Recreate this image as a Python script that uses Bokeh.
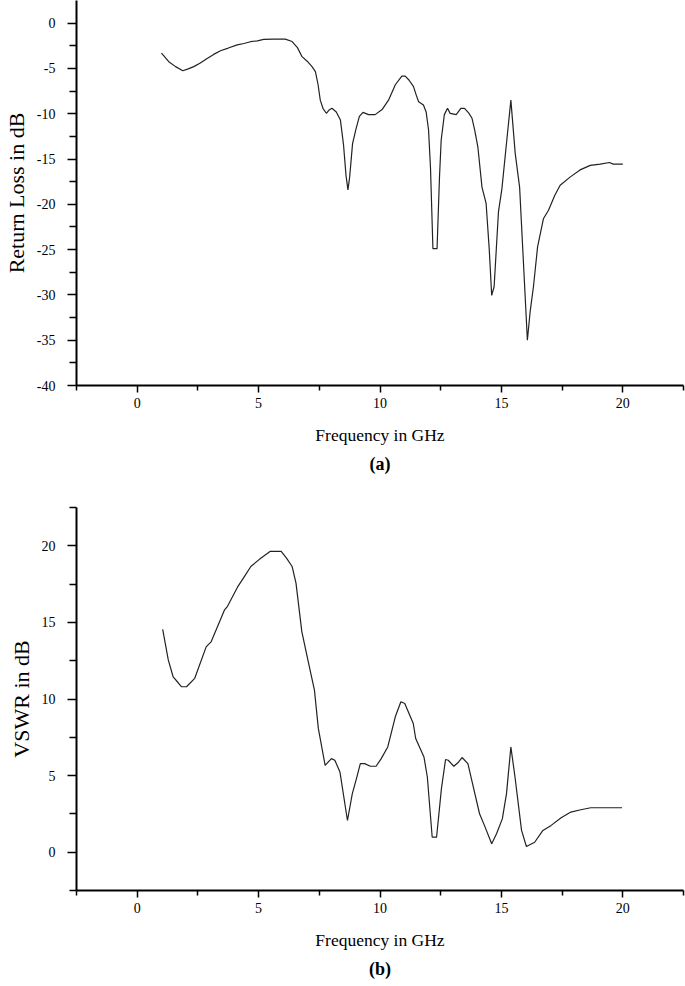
from bokeh.plotting import figure
from bokeh.layouts import column
from bokeh.models import FixedTicker, Title, Range1d, PrintfTickFormatter
from bokeh.embed import file_html
from bokeh.resources import INLINE

# ---- data ----
freq_rl = [1.0, 1.3, 1.58, 1.88, 2.1, 2.33, 2.6, 2.88, 3.15, 3.43, 3.75, 4.12, 4.4, 4.66,
           4.95, 5.21, 5.6, 6.1, 6.38, 6.6, 6.79, 7.0, 7.2, 7.34, 7.45, 7.54, 7.65, 7.79,
           7.9, 8.02, 8.2, 8.37, 8.5, 8.6, 8.68, 8.75, 8.87, 9.0, 9.15, 9.3, 9.53, 9.8,
           10.1, 10.35, 10.5, 10.63, 10.9, 11.04, 11.2, 11.38, 11.5, 11.59, 11.79, 11.9,
           12.0, 12.08, 12.18, 12.35, 12.45, 12.52, 12.65, 12.78, 12.89, 13.14, 13.33,
           13.48, 13.65, 13.79, 13.9, 14.03, 14.2, 14.37, 14.5, 14.6, 14.7, 14.88, 15.02,
           15.2, 15.39, 15.57, 15.75, 15.9, 16.07, 16.19, 16.32, 16.49, 16.73, 16.94,
           17.2, 17.42, 17.84, 18.24, 18.66, 19.07, 19.45, 19.61, 20.0]
return_loss = [-3.3, -4.25, -4.8, -5.25, -5.05, -4.8, -4.4, -3.9, -3.45, -3.05, -2.75, -2.4,
               -2.25, -2.05, -1.95, -1.8, -1.77, -1.77, -2.03, -2.7, -3.7, -4.2, -4.8, -5.35,
               -6.8, -8.5, -9.4, -9.95, -9.6, -9.4, -9.8, -10.7, -13.5, -16.8, -18.4, -17.0,
               -13.3, -11.8, -10.3, -9.85, -10.1, -10.1, -9.5, -8.5, -7.6, -6.8, -5.85,
               -5.85, -6.3, -7.0, -8.0, -8.67, -9.04, -9.8, -11.8, -16.0, -24.9, -24.9,
               -17.0, -12.9, -10.1, -9.4, -9.96, -10.1, -9.4, -9.4, -9.9, -10.5, -11.8,
               -13.65, -18.1, -19.9, -25.0, -30.05, -29.1, -20.8, -18.3, -13.5, -8.5,
               -14.4, -18.1, -26.0, -35.0, -31.7, -29.1, -24.7, -21.6, -20.65, -19.0,
               -17.9, -16.97, -16.2, -15.7, -15.56, -15.38, -15.56, -15.56]

freq_vswr = [1.05, 1.28, 1.48, 1.69, 1.82, 2.03, 2.37, 2.84, 3.05, 3.59, 3.72, 4.13, 4.4,
             4.68, 5.02, 5.47, 5.93, 6.15, 6.38, 6.54, 6.78, 7.06, 7.3, 7.46, 7.74, 8.0,
             8.14, 8.35, 8.66, 8.86, 9.03, 9.19, 9.37, 9.6, 9.84, 10.05, 10.32, 10.63,
             10.86, 11.02, 11.37, 11.47, 11.81, 11.95, 12.15, 12.33, 12.53, 12.7, 12.81,
             13.04, 13.24, 13.38, 13.62, 13.78, 14.1, 14.3, 14.6, 14.8, 15.04, 15.21,
             15.39, 15.56, 15.83, 16.03, 16.37, 16.71, 17.05, 17.46, 17.86, 18.27, 18.68,
             19.36, 19.97]
vswr = [14.55, 12.55, 11.45, 11.06, 10.8, 10.8, 11.35, 13.4, 13.75, 15.8, 16.05, 17.3,
        17.96, 18.65, 19.1, 19.63, 19.63, 19.2, 18.65, 17.56, 14.4, 12.33, 10.58, 8.08,
        5.67, 6.11, 6.0, 5.24, 2.07, 3.82, 4.8, 5.78, 5.78, 5.61, 5.61, 6.11, 6.87, 8.84,
        9.82, 9.71, 8.4, 7.42, 6.22, 4.91, 0.98, 0.98, 4.15, 6.05, 6.0, 5.61, 5.89, 6.18,
        5.78, 4.69, 2.51, 1.75, 0.55, 1.2, 2.19, 3.82, 6.87, 4.91, 1.42, 0.37, 0.65, 1.42,
        1.75, 2.25, 2.62, 2.77, 2.9, 2.9, 2.9]

x_major = [0, 5, 10, 15, 20]
x_minor = [-2.5, 2.5, 7.5, 12.5, 17.5, 22.5]
rl_major = [-40, -35, -30, -25, -20, -15, -10, -5, 0]
rl_minor = [-37.5, -32.5, -27.5, -22.5, -17.5, -12.5, -7.5, -2.5]
vswr_major = [0, 5, 10, 15, 20]
vswr_minor = [-2.5, 2.5, 7.5, 12.5, 17.5, 22.5]

FONT = "Liberation Serif"


def style(p, ylabel, ymaj, ymin, caption, ylabel_standoff):
    p.xgrid.grid_line_color = None
    p.ygrid.grid_line_color = None
    p.outline_line_color = None
    p.xaxis.ticker = FixedTicker(ticks=x_major, minor_ticks=x_minor)
    p.yaxis.ticker = FixedTicker(ticks=ymaj, minor_ticks=ymin)
    p.xaxis.formatter = PrintfTickFormatter(format="%d")
    p.yaxis.formatter = PrintfTickFormatter(format="%d")
    for ax in (p.xaxis[0], p.yaxis[0]):
        ax.axis_line_width = 2
        ax.axis_line_color = "black"
        ax.major_tick_line_width = 1.5
        ax.minor_tick_line_width = 1.5
        ax.major_tick_line_color = "black"
        ax.minor_tick_line_color = "black"
        ax.major_tick_in = 0
        ax.minor_tick_in = 0
        ax.major_label_text_font = FONT
        ax.major_label_text_font_size = "14px"
        ax.major_label_text_color = "black"
        ax.axis_label_text_font = FONT
        ax.axis_label_text_font_style = "normal"
        ax.axis_label_text_color = "black"
    p.xaxis.major_tick_out = 7
    p.xaxis.minor_tick_out = 5
    p.yaxis.major_tick_out = 9
    p.yaxis.minor_tick_out = 7
    p.xaxis.major_label_standoff = 5
    p.yaxis.major_label_standoff = 12
    p.xaxis.axis_label = "Frequency in GHz"
    p.xaxis.axis_label_text_font_size = "17.5px"
    p.xaxis.axis_label_standoff = 14
    p.yaxis.axis_label = ylabel
    p.yaxis.axis_label_text_font_size = "22px"
    p.yaxis.axis_label_standoff = ylabel_standoff
    p.add_layout(Title(text=caption, align="center", text_font=FONT,
                       text_font_size="18px", text_font_style="bold",
                       text_color="black", standoff=9), "below")


p1 = figure(width=685, height=495, output_backend="svg", toolbar_location=None,
            x_range=Range1d(-2.5, 22.5), y_range=Range1d(-40, 2.5),
            min_border_left=76, min_border_right=2, min_border_top=0,
            min_border_bottom=110)
p1.line(freq_rl, return_loss, line_color="#222222", line_width=1.2)
style(p1, "Return Loss in dB", rl_major, rl_minor, "(a)", 5)

p2 = figure(width=685, height=491, output_backend="svg", toolbar_location=None,
            x_range=Range1d(-2.5, 22.5), y_range=Range1d(-2.5, 22.5),
            min_border_left=71, min_border_right=2, min_border_top=12,
            min_border_bottom=96)
p2.line(freq_vswr, vswr, line_color="#222222", line_width=1.2)
style(p2, "VSWR in dB", vswr_major, vswr_minor, "(b)", 5)

layout = column(p1, p2)
open("out.html", "w").write(file_html(layout, INLINE))
